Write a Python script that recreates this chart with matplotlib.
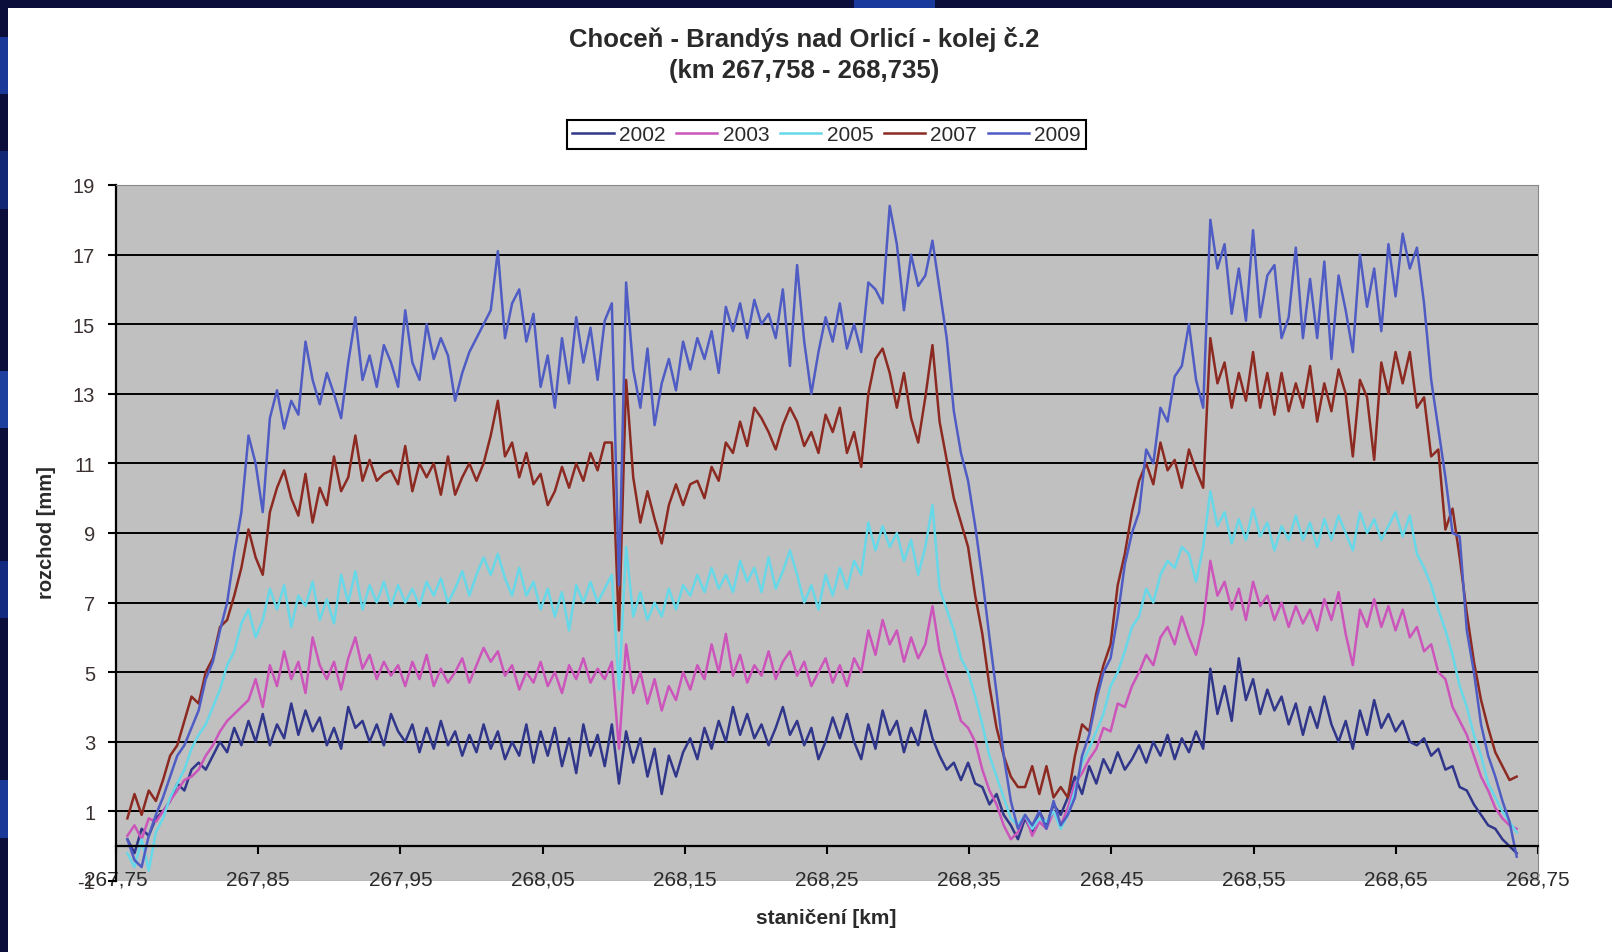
import numpy as np
import matplotlib.pyplot as plt
from matplotlib.patches import Rectangle

plt.rcParams['font.family'] = ['Liberation Sans', 'DejaVu Sans']

# stationing of the measured section [km]
km = np.linspace(267.758, 268.735, 196)

years = ["2002", "2003", "2005", "2007", "2009"]
colors = ["#30368a", "#cc55bb", "#66d8e8", "#8c2a22", "#4f5cc4"]

# track gauge deviation [mm]
gauge_2002 = [
    0.2, -0.2, 0.5, 0.3, 0.8, 1.0, 1.3, 1.8, 1.6, 2.2,
    2.4, 2.2, 2.6, 3.0, 2.7, 3.4, 2.9, 3.6, 3.0, 3.8,
    2.9, 3.5, 3.1, 4.1, 3.2, 3.9, 3.3, 3.7, 2.9, 3.4,
    2.8, 4.0, 3.4, 3.6, 3.0, 3.5, 2.9, 3.8, 3.3, 3.0,
    3.5, 2.7, 3.4, 2.8, 3.6, 2.9, 3.3, 2.6, 3.2, 2.7,
    3.5, 2.8, 3.3, 2.5, 3.0, 2.6, 3.5, 2.4, 3.3, 2.6,
    3.4, 2.3, 3.1, 2.1, 3.5, 2.6, 3.2, 2.3, 3.5, 1.8,
    3.3, 2.4, 3.1, 2.0, 2.8, 1.5, 2.6, 2.0, 2.7, 3.1,
    2.5, 3.4, 2.8, 3.6, 3.0, 4.0, 3.2, 3.8, 3.1, 3.5,
    2.9, 3.4, 4.0, 3.2, 3.6, 2.9, 3.4, 2.5, 3.0, 3.7,
    3.1, 3.8, 3.0, 2.5, 3.5, 2.8, 3.9, 3.2, 3.6, 2.7,
    3.4, 2.9, 3.9, 3.1, 2.6, 2.2, 2.4, 1.9, 2.4, 1.8,
    1.7, 1.2, 1.5, 0.9, 0.6, 0.2, 0.8, 0.4, 1.0, 0.6,
    1.2, 0.9, 1.4, 2.0, 1.5, 2.3, 1.8, 2.5, 2.1, 2.7,
    2.2, 2.5, 2.9, 2.4, 3.0, 2.6, 3.2, 2.5, 3.1, 2.7,
    3.3, 2.8, 5.1, 3.8, 4.6, 3.6, 5.4, 4.2, 4.8, 3.8,
    4.5, 3.9, 4.3, 3.5, 4.1, 3.2, 4.0, 3.4, 4.3, 3.5,
    3.0, 3.6, 2.8, 3.9, 3.2, 4.2, 3.4, 3.8, 3.3, 3.6,
    3.0, 2.9, 3.1, 2.6, 2.8, 2.2, 2.3, 1.7, 1.6, 1.2,
    0.9, 0.6, 0.5, 0.2, 0.0, -0.2,
]
gauge_2003 = [
    0.3, 0.6, 0.2, 0.8, 0.7, 1.0, 1.3, 1.6, 1.9, 2.0,
    2.2, 2.6, 2.9, 3.3, 3.6, 3.8, 4.0, 4.2, 4.8, 4.0,
    5.2, 4.6, 5.6, 4.8, 5.3, 4.4, 6.0, 5.2, 4.8, 5.3,
    4.5, 5.4, 6.0, 5.1, 5.5, 4.8, 5.3, 4.9, 5.2, 4.6,
    5.3, 4.8, 5.5, 4.6, 5.1, 4.7, 5.0, 5.4, 4.7, 5.2,
    5.7, 5.3, 5.6, 4.9, 5.2, 4.5, 5.0, 4.7, 5.3, 4.6,
    5.0, 4.4, 5.2, 4.8, 5.4, 4.7, 5.1, 4.8, 5.3, 2.8,
    5.8, 4.4, 5.0, 4.1, 4.8, 3.9, 4.6, 4.2, 5.0, 4.5,
    5.2, 4.8, 5.8, 5.0, 6.1, 4.9, 5.5, 4.7, 5.2, 4.9,
    5.6, 4.8, 5.3, 5.6, 4.9, 5.3, 4.6, 5.0, 5.4, 4.7,
    5.2, 4.6, 5.4, 5.0, 6.2, 5.5, 6.5, 5.8, 6.2, 5.3,
    6.0, 5.4, 5.8, 6.9, 5.6, 4.9, 4.3, 3.6, 3.4, 3.0,
    2.2, 1.6, 1.2, 0.6, 0.2, 0.4, 0.9, 0.3, 0.7, 0.5,
    1.0, 0.6, 1.1, 1.8, 2.1, 2.5, 2.8, 3.4, 3.3, 4.1,
    4.0, 4.6, 5.0, 5.5, 5.2, 6.0, 6.3, 5.8, 6.6, 6.0,
    5.5, 6.4, 8.2, 7.2, 7.6, 6.8, 7.4, 6.5, 7.6, 6.9,
    7.2, 6.5, 7.0, 6.3, 6.9, 6.4, 6.8, 6.2, 7.1, 6.5,
    7.3, 6.1, 5.2, 6.8, 6.3, 7.1, 6.3, 6.9, 6.2, 6.8,
    6.0, 6.3, 5.6, 5.8, 5.0, 4.8, 4.0, 3.6, 3.2, 2.6,
    2.0, 1.6, 1.1, 0.8, 0.6, 0.5,
]
gauge_2005 = [
    -0.2, -0.6, 0.2, -0.7, 0.4, 0.8, 1.4, 1.8, 2.2, 2.8,
    3.2, 3.5, 4.0, 4.5, 5.2, 5.6, 6.4, 6.8, 6.0, 6.5,
    7.4, 6.8, 7.5, 6.3, 7.2, 6.9, 7.6, 6.5, 7.1, 6.4,
    7.8, 7.0, 7.9, 6.8, 7.5, 7.0, 7.6, 6.9, 7.5, 7.0,
    7.4, 6.9, 7.6, 7.2, 7.7, 7.0, 7.4, 7.9, 7.2, 7.8,
    8.3, 7.8, 8.4, 7.7, 7.2, 8.0, 7.2, 7.6, 6.8, 7.4,
    6.6, 7.3, 6.2, 7.5, 7.0, 7.6, 7.0, 7.4, 7.8, 4.5,
    8.6, 6.6, 7.3, 6.5, 7.0, 6.6, 7.4, 6.8, 7.5, 7.2,
    7.8, 7.3, 8.0, 7.4, 7.8, 7.3, 8.2, 7.6, 8.0, 7.3,
    8.3, 7.4, 7.9, 8.5, 7.8, 7.0, 7.5, 6.8, 7.8, 7.2,
    8.0, 7.4, 8.2, 7.8, 9.3, 8.5, 9.2, 8.6, 9.0, 8.2,
    8.8, 7.8, 8.6, 9.8, 7.4, 6.8, 6.2, 5.4, 5.0, 4.3,
    3.5, 2.6, 2.0, 1.4, 0.8, 0.6, 0.9, 0.5, 0.8, 0.7,
    1.0, 0.5, 0.9, 1.6, 2.4, 2.8, 3.3, 3.8, 4.6, 5.0,
    5.6, 6.3, 6.6, 7.4, 7.0, 7.8, 8.2, 8.0, 8.6, 8.4,
    7.6, 8.6, 10.2, 9.2, 9.6, 8.7, 9.4, 8.8, 9.7, 8.9,
    9.3, 8.5, 9.2, 8.8, 9.5, 8.8, 9.3, 8.6, 9.4, 8.8,
    9.5, 9.0, 8.5, 9.6, 9.0, 9.4, 8.8, 9.2, 9.6, 8.9,
    9.5, 8.4, 8.0, 7.5, 6.8, 6.2, 5.5, 4.6, 4.0, 3.2,
    2.6, 1.8, 1.4, 1.0, 0.7, 0.4,
]
gauge_2007 = [
    0.8, 1.5, 0.9, 1.6, 1.3, 1.9, 2.6, 2.9, 3.6, 4.3,
    4.1, 5.0, 5.4, 6.3, 6.5, 7.2, 8.0, 9.1, 8.3, 7.8,
    9.6, 10.3, 10.8, 10.0, 9.5, 10.7, 9.3, 10.3, 9.8, 11.2,
    10.2, 10.6, 11.8, 10.5, 11.1, 10.5, 10.7, 10.8, 10.4, 11.5,
    10.2, 11.0, 10.6, 11.0, 10.1, 11.2, 10.1, 10.6, 11.0, 10.5,
    11.0, 11.8, 12.8, 11.2, 11.6, 10.6, 11.3, 10.4, 10.7, 9.8,
    10.2, 10.9, 10.3, 11.0, 10.5, 11.3, 10.8, 11.6, 11.6, 6.2,
    13.4, 10.6, 9.3, 10.2, 9.4, 8.7, 9.8, 10.4, 9.8, 10.4,
    10.5, 10.0, 10.9, 10.5, 11.6, 11.3, 12.2, 11.5, 12.6, 12.3,
    11.9, 11.4, 12.1, 12.6, 12.2, 11.5, 11.9, 11.3, 12.4, 11.9,
    12.6, 11.3, 11.9, 10.9, 13.0, 14.0, 14.3, 13.6, 12.6, 13.6,
    12.3, 11.6, 12.9, 14.4, 12.2, 11.1, 10.0, 9.3, 8.6, 7.2,
    6.1, 4.6, 3.4, 2.6, 2.0, 1.7, 1.7, 2.3, 1.5, 2.3,
    1.4, 1.7, 1.4, 2.6, 3.5, 3.3, 4.4, 5.2, 5.8, 7.5,
    8.4, 9.6, 10.5, 11.0, 10.4, 11.6, 10.8, 11.1, 10.3, 11.4,
    10.8, 10.3, 14.6, 13.3, 13.9, 12.6, 13.6, 12.8, 14.2, 12.6,
    13.6, 12.4, 13.6, 12.5, 13.3, 12.6, 13.8, 12.2, 13.3, 12.5,
    13.7, 13.0, 11.2, 13.4, 12.9, 11.1, 13.9, 13.0, 14.2, 13.3,
    14.2, 12.6, 12.9, 11.2, 11.4, 9.1, 9.7, 8.3, 6.7, 5.3,
    4.2, 3.4, 2.7, 2.3, 1.9, 2.0,
]
gauge_2009 = [
    0.2, -0.4, -0.6, 0.3, 0.9, 1.4, 2.0, 2.6, 2.9, 3.4,
    3.9, 4.8, 5.3, 6.2, 7.0, 8.4, 9.6, 11.8, 11.0, 9.6,
    12.3, 13.1, 12.0, 12.8, 12.4, 14.5, 13.4, 12.7, 13.6, 13.0,
    12.3, 13.9, 15.2, 13.4, 14.1, 13.2, 14.4, 13.9, 13.2, 15.4,
    13.9, 13.4, 15.0, 14.0, 14.6, 14.1, 12.8, 13.6, 14.2, 14.6,
    15.0, 15.4, 17.1, 14.6, 15.6, 16.0, 14.5, 15.3, 13.2, 14.1,
    12.6, 14.6, 13.3, 15.2, 13.9, 14.9, 13.4, 15.1, 15.6, 7.5,
    16.2, 13.7, 12.6, 14.3, 12.1, 13.3, 14.0, 13.1, 14.5, 13.7,
    14.6, 14.0, 14.8, 13.6, 15.5, 14.8, 15.6, 14.6, 15.7, 15.0,
    15.3, 14.6, 16.0, 13.8, 16.7, 14.5, 13.0, 14.2, 15.2, 14.5,
    15.6, 14.3, 15.0, 14.2, 16.2, 16.0, 15.6, 18.4, 17.3, 15.4,
    17.0, 16.1, 16.4, 17.4, 16.0, 14.6, 12.5, 11.3, 10.5, 9.2,
    7.7, 6.0, 4.4, 2.6, 1.3, 0.5, 0.9, 0.6, 1.0, 0.5,
    1.3, 0.6, 0.9, 1.4, 2.6, 3.2, 4.2, 5.0, 5.4, 6.6,
    8.1, 9.0, 9.6, 11.4, 11.0, 12.6, 12.2, 13.5, 13.8, 15.0,
    13.4, 12.6, 18.0, 16.6, 17.3, 15.3, 16.6, 15.1, 17.7, 15.2,
    16.4, 16.7, 14.6, 15.2, 17.2, 14.6, 16.3, 14.6, 16.8, 14.0,
    16.4, 15.4, 14.2, 17.0, 15.5, 16.6, 14.8, 17.3, 15.8, 17.6,
    16.6, 17.2, 15.6, 13.4, 12.0, 10.6, 9.0, 8.9, 6.2, 5.0,
    3.5, 2.6, 2.0, 1.3, 0.7, -0.3,
]
series = [gauge_2002, gauge_2003, gauge_2005, gauge_2007, gauge_2009]

x_ticks = np.arange(267.75, 268.76, 0.1)
y_ticks = np.arange(-1, 20, 2)

W, H = 1612, 953
fig = plt.figure(figsize=(W / 100, H / 100), dpi=100, facecolor="#0b0d3a")

# dark frame with a bit of blue texture, white sheet on top
for yy, c in [(0.12, "#2456d8"), (0.35, "#1b3fb0"), (0.55, "#2a62e0"), (0.78, "#1a3aa0"), (0.9, "#2456d8")]:
    fig.add_artist(Rectangle((0, yy), 8 / W, 0.06, transform=fig.transFigure,
                             facecolor=c, edgecolor="none", alpha=0.6, zorder=-3))
fig.add_artist(Rectangle((0.53, 1 - 9 / H), 0.05, 9 / H, transform=fig.transFigure,
                         facecolor="#1f4cc8", edgecolor="none", alpha=0.7, zorder=-3))
fig.add_artist(Rectangle((8 / W, 0), 1, 1 - 9 / H, transform=fig.transFigure,
                         facecolor="white", edgecolor="none", zorder=-2))

ax = fig.add_axes([116 / W, 1 - 882 / H, (1538 - 116) / W, (882 - 186) / H])
ax.set_facecolor("#c0c0c0")

for y in range(1, 19, 2):
    ax.axhline(y, color="black", lw=1.4, zorder=1)

for vals, year, c in zip(series, years, colors):
    ax.plot(km, vals, color=c, lw=1.8, label=year, zorder=2)

ax.set_xlim(267.75, 268.75)
ax.set_ylim(-1, 19)

ax.spines["bottom"].set_position(("data", 0))
ax.spines["bottom"].set_linewidth(1.6)
ax.spines["left"].set_linewidth(1.6)
ax.spines["top"].set_color("#888888")
ax.spines["right"].set_color("#888888")
ax.axhline(-1, color="#999999", lw=1.0, zorder=1)

ax.set_xticks(x_ticks)
ax.set_xticklabels([f"{v:.2f}".replace(".", ",") for v in x_ticks])
ax.set_yticks(y_ticks)
ax.set_yticklabels([str(v) for v in y_ticks])
ax.tick_params(axis="x", direction="out", length=6, width=1.5, pad=11,
               labelsize=15, labelcolor="#2a2a2a")
ax.tick_params(axis="y", direction="out", length=6, width=1.5, pad=9,
               labelsize=14.5, labelcolor="#3a3030")

fig.text(0.499, 1 - 40 / H, "Choceň - Brandýs nad Orlicí - kolej č.2", ha="center", va="center",
         fontsize=18.5, fontweight="bold", color="#2a2a2a")
fig.text(0.499, 1 - 71 / H, "(km 267,758 - 268,735)", ha="center", va="center",
         fontsize=18.5, fontweight="bold", color="#2a2a2a")
fig.text(47 / W, 1 - 533 / H, "rozchod [mm]", rotation=90, ha="center", va="center",
         fontsize=14.5, fontweight="bold", color="#2a2a2a")
fig.text(826 / W, 1 - 919 / H, "staničení [km]", ha="center", va="center",
         fontsize=15, fontweight="bold", color="#2a2a2a")

leg = fig.legend(loc="center", bbox_to_anchor=(826.5 / W, 1 - 135.5 / H), ncol=5,
                 fontsize=15, frameon=True, fancybox=False, edgecolor="black",
                 framealpha=1, handlelength=2.0, handletextpad=0.25, columnspacing=0.5,
                 borderpad=0.25)
leg.get_frame().set_linewidth(1.5)
for t in leg.get_texts():
    t.set_color("#2a2a2a")

fig.savefig("out.png", dpi=100, facecolor=fig.get_facecolor())
